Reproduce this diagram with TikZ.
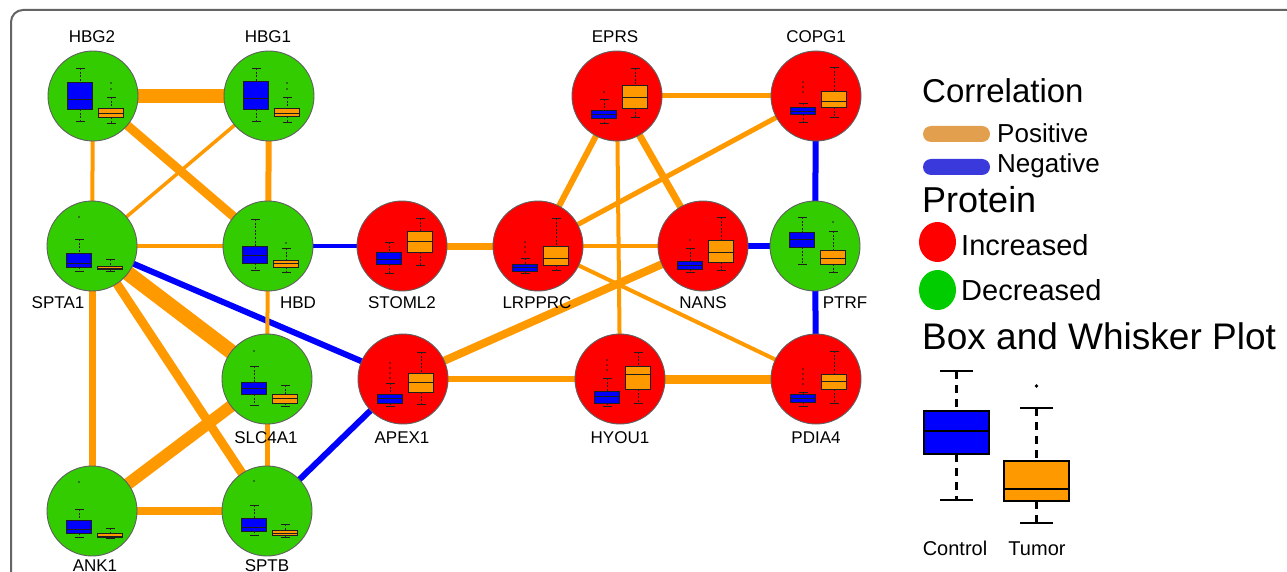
\documentclass[tikz,border=0pt]{standalone}
\usepackage{fontspec}
\setmainfont{Liberation Sans}
\usetikzlibrary{shapes.geometric}

\definecolor{incred}{RGB}{255,0,0}
\definecolor{decgreen}{RGB}{51,204,0}
\definecolor{keygreen}{RGB}{0,204,0}
\definecolor{posorange}{RGB}{255,153,0}
\definecolor{negblue}{RGB}{0,0,255}
\definecolor{keypos}{RGB}{226,160,78}
\definecolor{keyneg}{RGB}{58,58,220}
\definecolor{ctrlblue}{RGB}{0,0,255}
\definecolor{tumorange}{RGB}{255,153,0}
\definecolor{rimgrey}{RGB}{95,95,95}
\definecolor{framegrey}{RGB}{100,100,100}
\definecolor{inkdark}{RGB}{30,30,30}

\pgfdeclarelayer{background}
\pgfsetlayers{background,main}

\newcommand{\fs}[1]{\fontsize{#1}{#1}\selectfont}

% small box plot: x, node-centre y, top whisker, box top, median, box bottom, bottom whisker, fill
\newcommand{\minibox}[8]{%
  \draw[whisk] ({#1},{#2+(#3)}) -- ({#1},{#2+(#4)});
  \draw[whisk] ({#1},{#2+(#6)}) -- ({#1},{#2+(#7)});
  \draw[capline] ({#1-4.5},{#2+(#3)}) -- ({#1+4.5},{#2+(#3)});
  \draw[capline] ({#1-4.5},{#2+(#7)}) -- ({#1+4.5},{#2+(#7)});
  \draw[boxline,fill=#8] ({#1-12.5},{#2+(#4)}) rectangle ({#1+12.5},{#2+(#6)});
  \draw[boxline] ({#1-12.5},{#2+(#5)}) -- ({#1+12.5},{#2+(#5)});
}
% control (blue) and tumour (orange) plots inside a protein circle
\newcommand{\ctrl}[7]{\minibox{#1-13}{#2}{#3}{#4}{#5}{#6}{#7}{ctrlblue}}
\newcommand{\tumr}[7]{\minibox{#1+18}{#2}{#3}{#4}{#5}{#6}{#7}{tumorange}}
\newcommand{\ctrlout}[3]{\foreach \yy in {#3}{\fill[inkdark] ({#1-13},{#2+\yy}) circle[radius=0.8pt];}}
\newcommand{\tumrout}[3]{\foreach \yy in {#3}{\fill[inkdark] ({#1+18},{#2+\yy}) circle[radius=0.8pt];}}

\tikzset{
  prot/.style={circle, draw=rimgrey, line width=0.9pt, minimum size=90pt, inner sep=0pt},
  inc/.style={prot, fill=incred},
  dec/.style={prot, fill=decgreen},
  lbl/.style={font=\fs{17}, text=black, inner sep=0pt, anchor=base},
  poscorr/.style={draw=posorange},
  negcorr/.style={draw=negblue},
  whisk/.style={draw=inkdark, line width=0.7pt, dash pattern=on 2pt off 1.6pt},
  capline/.style={draw=inkdark, line width=0.8pt},
  boxline/.style={draw=inkdark, line width=0.8pt},
  keytext/.style={inner sep=0pt, anchor=base west, text=black},
  pill/.style={rectangle, rounded corners=8pt, minimum width=67pt, minimum height=16pt, inner sep=0pt},
  blob/.style={ellipse, minimum width=37pt, minimum height=40pt, inner sep=0pt},
  bigwhisk/.style={draw=black, line width=2.6pt, dash pattern=on 8pt off 6pt},
  bigcap/.style={draw=black, line width=2.6pt},
  bigbox/.style={draw=black, line width=2.6pt},
}

\begin{document}
\begin{tikzpicture}[x=1pt, y=-1pt]
\useasboundingbox (0,0) rectangle (1287,572);

% ---------------- protein nodes ----------------
\node[dec] (HBG2)   at (93,96)   {};
\node[dec] (HBG1)   at (269,96)  {};
\node[inc] (EPRS)   at (617,96)  {};
\node[inc] (COPG1)  at (816,96)  {};
\node[dec] (SPTA1)  at (92,246)  {};
\node[dec] (HBD)    at (268,246) {};
\node[inc] (STOML2) at (402,246) {};
\node[inc] (LRPPRC) at (538,246) {};
\node[inc] (NANS)   at (703,246) {};
\node[dec] (PTRF)   at (815,246) {};
\node[dec] (SLC4A1) at (267,379) {};
\node[inc] (APEX1)  at (403,379) {};
\node[inc] (HYOU1)  at (620,379) {};
\node[inc] (PDIA4)  at (816,379) {};
\node[dec] (ANK1)   at (92,511)  {};
\node[dec] (SPTB)   at (267,511) {};

% ---------------- panel frame and correlations ----------------
\begin{pgfonlayer}{background}
\fill[white] (0,0) rectangle (1287,572);
\draw[framegrey, line width=2pt, rounded corners=12pt] (11,10) rectangle (1320,610);
\draw[poscorr, line width=14pt] (HBG2.center) -- (HBG1.center);
\draw[poscorr, line width=4pt]  (HBG2.center) -- (SPTA1.center);
\draw[poscorr, line width=9pt]  (HBG2.center) -- (HBD.center);
\draw[poscorr, line width=3.5pt] (HBG1.center) -- (SPTA1.center);
\draw[poscorr, line width=6pt]  (HBG1.center) -- (HBD.center);
\draw[poscorr, line width=4pt]  (SPTA1.center) -- (HBD.center);
\draw[negcorr, line width=4pt]  (HBD.center) -- (STOML2.center);
\draw[negcorr, line width=6pt]  (SPTA1.center) -- (APEX1.center);
\draw[poscorr, line width=15pt] (SPTA1.center) -- (SLC4A1.center);
\draw[poscorr, line width=9pt]  (SPTA1.center) -- (SPTB.center);
\draw[poscorr, line width=7pt]  (SPTA1.center) -- (ANK1.center);
\draw[poscorr, line width=4pt]  (HBD.center) -- (SLC4A1.center);
\draw[poscorr, line width=5pt]  (SLC4A1.center) -- (SPTB.center);
\draw[poscorr, line width=12pt] (SLC4A1.center) -- (ANK1.center);
\draw[poscorr, line width=8pt]  (ANK1.center) -- (SPTB.center);
\draw[negcorr, line width=6pt]  (SPTB.center) -- (APEX1.center);
\draw[poscorr, line width=7pt]  (STOML2.center) -- (LRPPRC.center);
\draw[poscorr, line width=6pt]  (LRPPRC.center) -- (EPRS.center);
\draw[poscorr, line width=5pt]  (LRPPRC.center) -- (COPG1.center);
\draw[poscorr, line width=4pt]  (LRPPRC.center) -- (NANS.center);
\draw[poscorr, line width=4pt]  (LRPPRC.center) -- (PDIA4.center);
\draw[poscorr, line width=5pt]  (EPRS.center) -- (COPG1.center);
\draw[poscorr, line width=7pt]  (EPRS.center) -- (NANS.center);
\draw[poscorr, line width=4pt]  (EPRS.center) -- (HYOU1.center);
\draw[poscorr, line width=8pt]  (APEX1.center) -- (NANS.center);
\draw[negcorr, line width=6pt]  (NANS.center) -- (PTRF.center);
\draw[negcorr, line width=6pt]  (COPG1.center) -- (PTRF.center);
\draw[negcorr, line width=6pt]  (PTRF.center) -- (PDIA4.center);
\draw[poscorr, line width=6pt]  (APEX1.center) -- (HYOU1.center);
\draw[poscorr, line width=9pt]  (HYOU1.center) -- (PDIA4.center);
\end{pgfonlayer}

% ---------------- box plots inside the nodes ----------------
\ctrl{93}{96}{-28}{-14}{3}{13}{25}   \tumr{93}{96}{1}{12}{17}{21}{27}   \tumrout{93}{96}{-13,-7}
\ctrl{269}{96}{-28}{-15}{2}{13}{25}  \tumr{269}{96}{1}{12}{17}{20}{26}  \tumrout{269}{96}{-13,-7}
\ctrl{617}{96}{3}{14}{18}{22}{27}    \tumr{617}{96}{-28}{-11}{1}{12}{21} \ctrlout{617}{96}{-4}
\ctrl{816}{96}{7}{11}{15}{18}{26}    \tumr{816}{96}{-29}{-5}{5}{11}{21}  \ctrlout{816}{96}{-14,-9,-4}
\ctrl{92}{246}{-7}{7}{17}{21}{25}    \tumr{92}{246}{13}{20}{22}{23}{25}  \ctrlout{92}{246}{-29}
\ctrl{268}{246}{-27}{0}{9}{17}{24}   \tumr{268}{246}{2}{14}{17}{21}{26}  \tumrout{268}{246}{-3}
\ctrl{402}{246}{-4}{6}{13}{18}{27}   \tumr{402}{246}{-28}{-15}{-5}{6}{19}
\ctrl{538}{246}{12}{18}{21}{25}{27}  \tumr{538}{246}{-28}{0}{12}{19}{24} \ctrlout{538}{246}{-4,1,6}
\ctrl{703}{246}{2}{15}{19}{23}{26}   \tumr{703}{246}{-29}{-6}{6}{16}{24} \ctrlout{703}{246}{-6}
\ctrl{815}{246}{-29}{-14}{-7}{1}{18} \tumr{815}{246}{-15}{4}{12}{18}{26} \tumrout{815}{246}{-24}
\ctrl{267}{379}{-13}{3}{9}{15}{26}   \tumr{267}{379}{6}{15}{19}{24}{27}  \ctrlout{267}{379}{-28}
\ctrl{403}{379}{4}{15}{19}{24}{27}   \tumr{403}{379}{-27}{-6}{3}{13}{25} \ctrlout{403}{379}{-16,-11,-6,-1}
\ctrl{620}{379}{-1}{12}{17}{24}{27}  \tumr{620}{379}{-27}{-13}{-5}{10}{24} \ctrlout{620}{379}{-19,-14,-9}
\ctrl{816}{379}{13}{15}{19}{23}{27}  \tumr{816}{379}{-28}{-5}{2}{10}{24} \ctrlout{816}{379}{-10,-5,0,5}
\ctrl{92}{511}{-2}{9}{18}{22}{26}    \tumr{92}{511}{17}{22}{25}{26}{27}  \ctrlout{92}{511}{-29}
\ctrl{267}{511}{-6}{7}{16}{20}{24}   \tumr{267}{511}{13}{19}{22}{24}{26} \ctrlout{267}{511}{-30}

% ---------------- protein names ----------------
\node[lbl] (HBG2-t)   at (92,43)   {HBG2};
\node[lbl] (HBG1-t)   at (268,43)  {HBG1};
\node[lbl] (EPRS-t)   at (615,43)  {EPRS};
\node[lbl] (COPG1-t)  at (816,43)  {COPG1};
\node[lbl] (SPTA1-t)  at (58,308)  {SPTA1};
\node[lbl] (HBD-t)    at (298,308) {HBD};
\node[lbl] (STOML2-t) at (402,308) {STOML2};
\node[lbl] (LRPPRC-t) at (537,308) {LRPPRC};
\node[lbl] (NANS-t)   at (703,308) {NANS};
\node[lbl] (PTRF-t)   at (845,308) {PTRF};
\node[lbl] (SLC4A1-t) at (266,443) {SLC4A1};
\node[lbl] (APEX1-t)  at (402,443) {APEX1};
\node[lbl] (HYOU1-t)  at (620,443) {HYOU1};
\node[lbl] (PDIA4-t)  at (816,443) {PDIA4};
\node[lbl] (ANK1-t)   at (95,571)  {ANK1};
\node[lbl] (SPTB-t)   at (267,571) {SPTB};

% ---------------- key ----------------
\node[keytext, font=\fs{33}] (corrHead) at (922,103) {Correlation};
\node[pill, fill=keypos] (posKey) at (956.5,134) {};
\node[keytext, font=\fs{26}] (posText) at (997,143) {Positive};
\node[pill, fill=keyneg] (negKey) at (956.5,167) {};
\node[keytext, font=\fs{26}] (negText) at (997,173) {Negative};
\node[keytext, font=\fs{36}] (protHead) at (922,212) {Protein};
\node[blob, fill=incred] (incKey) at (937.5,242) {};
\node[keytext, font=\fs{29}] (incText) at (961,255) {Increased};
\node[blob, fill=keygreen] (decKey) at (937.5,290) {};
\node[keytext, font=\fs{29}] (decText) at (961,300) {Decreased};
\node[keytext, font=\fs{37}] (boxHead) at (922,349) {Box and Whisker Plot};

% large example box plots
\draw[bigwhisk] (956.5,371) -- (956.5,411);
\draw[bigwhisk] (956.5,454) -- (956.5,500);
\draw[bigcap] (940,371) -- (973,371);
\draw[bigcap] (940,500) -- (973,500);
\draw[bigbox, fill=ctrlblue] (924,411) rectangle (989,454);
\draw[bigbox] (924,431) -- (989,431);

\fill[black] (1036.5,386) circle[radius=1.8pt];
\draw[bigwhisk] (1036.5,408) -- (1036.5,461);
\draw[bigwhisk] (1036.5,501) -- (1036.5,523);
\draw[bigcap] (1020,408) -- (1053,408);
\draw[bigcap] (1020,523) -- (1053,523);
\draw[bigbox, fill=tumorange] (1004,461) rectangle (1069,501);
\draw[bigbox] (1004,489) -- (1069,489);

\node[lbl, font=\fs{20}] (ctrlText) at (955,555) {Control};
\node[lbl, font=\fs{20}] (tumrText) at (1037,555) {Tumor};
\end{tikzpicture}
\end{document}
